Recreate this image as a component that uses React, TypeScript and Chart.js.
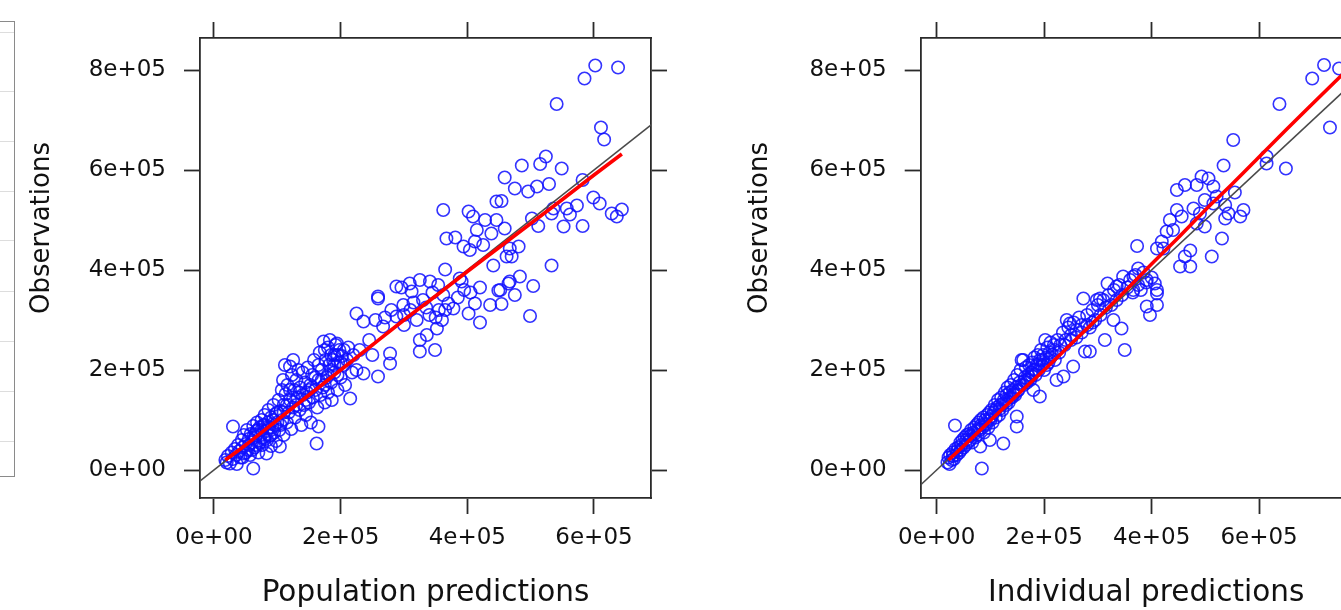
import { useEffect, useRef } from 'react';
import { Chart, registerables } from 'chart.js';

Chart.register(...registerables);

// values are in units of 1e5
const UNIT = 1e5;

const xTickValues = [0, 2e5, 4e5, 6e5];
const xTickLabels = ['0e+00', '2e+05', '4e+05', '6e+05'];
const yTickValues = [0, 2e5, 4e5, 6e5, 8e5];
const yTickLabels = ['0e+00', '2e+05', '4e+05', '6e+05', '8e+05'];

const obsRange = [-56000, 864000];
const popPredRange = [-22100, 690000];
const indPredRange = [-29800, 809700];

const yTitle = 'Observations';
const popTitle = 'Population predictions';
const indTitle = 'Individual predictions';

// grid levels of the partially visible panel at the far left
const leftPanelGridLevels = [445, 386, 336, 286, 236, 186, 136, 86, 36];
const leftPanelRange = [0, 456];

// [population prediction, observation]
const populationPairs: [number, number][] = [
  [0.18, 0.2], [0.2, 0.15], [0.22, 0.28], [0.25, 0.13], [0.28, 0.35], [0.3, 0.22], [0.3, 0.87], [0.33, 0.42],
  [0.35, 0.3], [0.36, 0.12], [0.38, 0.5], [0.4, 0.38], [0.42, 0.25], [0.44, 0.6], [0.45, 0.45], [0.47, 0.7],
  [0.48, 0.33], [0.5, 0.52], [0.52, 0.8], [0.54, 0.4], [0.55, 0.62], [0.57, 0.3], [0.58, 0.72], [0.6, 0.55],
  [0.62, 0.03], [0.62, 0.88], [0.64, 0.45], [0.65, 0.66], [0.67, 0.78], [0.68, 0.95], [0.7, 0.58], [0.7, 0.35],
  [0.72, 0.85], [0.74, 0.7], [0.75, 1.0], [0.76, 0.5], [0.78, 0.9], [0.8, 0.62], [0.8, 1.1], [0.83, 0.33],
  [0.83, 0.78], [0.85, 0.95], [0.86, 1.2], [0.88, 0.68], [0.9, 1.05], [0.9, 0.48], [0.92, 0.85], [0.94, 1.3],
  [0.95, 0.75], [0.97, 1.12], [0.98, 0.58], [1.0, 0.95], [1.02, 1.4], [1.03, 0.8], [1.04, 0.47], [1.05, 1.18],
  [1.07, 1.6], [1.08, 1.0], [1.09, 1.8], [1.1, 0.7], [1.1, 1.3], [1.12, 2.1], [1.13, 1.52], [1.15, 0.95],
  [1.16, 1.7], [1.18, 1.15], [1.2, 2.07], [1.2, 1.4], [1.22, 0.82], [1.23, 1.9], [1.25, 2.2], [1.25, 1.25],
  [1.27, 1.6], [1.28, 1.05], [1.3, 1.8], [1.32, 1.45], [1.33, 2.0], [1.35, 1.2], [1.36, 1.65], [1.38, 0.9],
  [1.4, 1.5], [1.4, 1.95], [1.42, 1.3], [1.44, 1.75], [1.45, 1.1], [1.47, 1.55], [1.48, 2.05], [1.5, 1.35],
  [1.52, 1.7], [1.53, 0.95], [1.55, 1.9], [1.56, 1.45], [1.58, 2.2], [1.6, 1.6], [1.62, 0.53], [1.63, 1.25],
  [1.65, 0.87], [1.65, 1.8], [1.67, 2.35], [1.68, 1.5], [1.7, 2.0], [1.72, 1.65], [1.73, 2.57], [1.75, 1.35],
  [1.76, 2.2], [1.78, 1.85], [1.8, 2.45], [1.8, 1.55], [1.82, 2.1], [1.83, 2.6], [1.85, 1.75], [1.86, 1.4],
  [1.88, 2.2], [1.9, 2.3], [1.9, 1.95], [1.92, 2.5], [1.94, 2.53], [1.95, 1.6], [1.96, 2.15], [1.98, 2.4],
  [2.0, 1.85], [2.02, 2.28], [2.05, 2.1], [2.07, 1.7], [2.1, 2.2], [2.12, 2.45], [2.15, 1.43], [2.18, 1.95],
  [0.45, 0.25], [0.5, 0.35], [0.55, 0.5], [0.6, 0.4], [0.63, 0.7], [0.66, 0.5], [0.69, 0.8], [0.72, 0.55],
  [0.75, 0.8], [0.78, 0.65], [0.8, 0.9], [0.84, 0.6], [0.87, 0.85], [0.9, 0.7], [0.93, 1.0], [0.96, 0.9],
  [1.0, 1.15], [1.05, 0.9], [1.1, 1.15], [1.15, 1.3], [1.2, 1.6], [1.25, 1.45], [1.3, 1.3], [1.35, 1.55],
  [1.45, 1.4], [1.5, 1.6], [1.55, 1.65], [1.6, 1.85], [1.7, 1.8], [1.75, 1.7], [1.8, 1.9], [1.85, 2.3],
  [1.9, 2.1], [1.95, 2.3], [2.0, 2.15], [2.05, 2.4], [1.85, 2.0], [1.75, 2.4], [1.65, 2.1], [1.95, 1.9],
  [2.2, 2.3], [2.25, 2.0], [2.36, 1.93], [2.3, 2.4], [2.45, 2.6], [2.5, 2.3], [2.59, 1.87], [2.78, 2.33],
  [2.78, 2.13], [2.25, 3.13], [2.36, 2.97], [2.55, 3.0], [2.59, 3.43], [2.67, 2.87], [2.7, 3.05], [2.8, 3.2],
  [2.88, 3.07], [2.99, 3.3], [2.88, 3.67], [2.59, 3.47], [2.96, 3.65], [3.0, 2.9], [3.0, 3.1], [3.09, 3.73],
  [3.1, 3.2], [3.12, 3.57], [3.15, 3.35], [3.2, 3.0], [3.25, 2.6], [3.25, 2.37], [3.25, 3.8], [3.3, 3.4],
  [3.35, 3.25], [3.36, 2.7], [3.4, 3.1], [3.41, 3.77], [3.45, 3.55], [3.49, 2.4], [3.5, 3.05], [3.52, 2.83],
  [3.54, 3.7], [3.55, 3.2], [3.6, 3.0], [3.62, 3.5], [3.65, 3.2], [3.7, 3.33], [3.78, 3.23], [3.85, 3.45],
  [3.95, 3.6], [4.05, 3.55], [4.02, 3.13], [4.12, 3.33], [4.2, 2.95], [4.36, 3.3], [4.54, 3.32], [4.75, 3.5],
  [4.52, 3.6], [4.67, 3.77], [4.99, 3.08], [3.65, 4.01], [3.88, 3.83], [3.91, 3.77], [4.2, 3.65], [4.49, 3.59],
  [4.65, 3.73], [4.83, 3.87], [5.04, 3.68], [4.41, 4.09], [5.33, 4.09], [4.62, 4.27], [4.7, 4.27], [3.67, 4.63],
  [3.81, 4.65], [3.94, 4.47], [4.04, 4.4], [4.12, 4.57], [4.25, 4.5], [4.67, 4.43], [4.81, 4.47], [4.15, 4.8],
  [4.38, 4.73], [4.59, 4.83], [4.28, 5.0], [4.46, 5.0], [5.12, 4.88], [5.52, 4.87], [5.82, 4.88], [5.02, 5.03],
  [5.33, 5.13], [5.62, 5.11], [5.36, 5.23], [5.57, 5.23], [5.73, 5.29], [6.28, 5.13], [6.44, 5.21], [6.36, 5.07],
  [3.62, 5.2], [4.02, 5.17], [4.09, 5.07], [4.46, 5.37], [4.54, 5.38], [5.99, 5.45], [6.09, 5.33], [4.96, 5.57],
  [4.75, 5.63], [5.1, 5.67], [5.29, 5.72], [4.59, 5.85], [5.82, 5.8], [4.86, 6.09], [5.49, 6.03], [5.15, 6.12],
  [5.24, 6.27], [6.16, 6.61], [6.11, 6.85], [5.41, 7.32], [5.85, 7.83], [6.02, 8.09], [6.38, 8.05],
];

// [individual prediction, observation]
const individualPairs: [number, number][] = [
  [0.2, 0.15], [0.22, 0.25], [0.24, 0.12], [0.25, 0.3], [0.28, 0.2], [0.3, 0.35], [0.32, 0.22], [0.34, 0.89],
  [0.35, 0.42], [0.37, 0.3], [0.4, 0.45], [0.42, 0.35], [0.44, 0.55], [0.45, 0.4], [0.48, 0.6], [0.5, 0.45],
  [0.52, 0.65], [0.54, 0.5], [0.56, 0.7], [0.58, 0.55], [0.6, 0.72], [0.62, 0.6], [0.64, 0.8], [0.66, 0.55],
  [0.68, 0.75], [0.7, 0.85], [0.72, 0.65], [0.74, 0.9], [0.76, 0.7], [0.78, 0.95], [0.8, 0.8], [0.81, 0.47],
  [0.82, 1.0], [0.84, 0.03], [0.85, 0.85], [0.87, 1.05], [0.88, 0.75], [0.9, 1.0], [0.92, 0.9], [0.94, 1.1],
  [0.96, 0.85], [0.98, 1.15], [0.99, 0.6], [1.0, 1.0], [1.02, 1.2], [1.04, 0.95], [1.06, 1.15], [1.08, 1.3],
  [1.1, 1.05], [1.12, 1.25], [1.14, 1.4], [1.16, 1.1], [1.18, 1.3], [1.2, 1.45], [1.22, 1.2], [1.24, 0.53],
  [1.25, 1.4], [1.27, 1.55], [1.29, 1.3], [1.3, 1.5], [1.32, 1.65], [1.34, 1.35], [1.36, 1.55], [1.38, 1.7],
  [1.4, 1.45], [1.42, 1.6], [1.44, 1.8], [1.46, 1.5], [1.48, 1.65], [1.49, 0.87], [1.49, 1.07], [1.5, 1.9],
  [1.52, 1.6], [1.54, 1.75], [1.56, 2.0], [1.58, 2.2], [1.61, 2.2], [1.62, 1.7], [1.64, 1.85], [1.66, 2.05],
  [1.68, 1.75], [1.7, 1.9], [1.72, 2.1], [1.74, 1.8], [1.76, 1.95], [1.78, 2.15], [1.8, 1.6], [1.8, 2.0],
  [1.82, 2.25], [1.84, 1.9], [1.86, 2.1], [1.88, 2.3], [1.9, 2.0], [1.92, 1.47], [1.92, 2.2], [1.94, 2.4],
  [1.96, 2.1], [1.98, 2.3], [2.0, 2.0], [2.02, 2.6], [2.04, 2.25], [2.06, 2.45], [2.08, 2.15], [2.1, 2.35],
  [0.3, 0.28], [0.38, 0.38], [0.46, 0.5], [0.55, 0.6], [0.62, 0.68], [0.7, 0.72], [0.77, 0.82], [0.83, 0.9],
  [0.9, 0.92], [0.97, 1.02], [1.03, 1.08], [1.1, 1.2], [1.17, 1.22], [1.23, 1.32], [1.3, 1.38], [1.37, 1.45],
  [1.43, 1.52], [1.5, 1.58], [1.57, 1.7], [1.63, 1.78], [1.7, 1.8], [1.77, 1.88], [1.83, 2.0], [1.9, 2.12],
  [1.97, 2.2], [2.05, 2.1], [2.12, 2.25], [2.2, 2.4], [2.28, 2.35], [2.38, 2.5], [2.5, 2.6], [2.6, 2.65],
  [2.7, 2.75], [2.8, 2.9], [2.9, 2.95],
  [2.12, 2.55], [2.15, 2.3], [2.18, 2.5], [2.2, 2.2], [2.23, 1.8], [2.36, 1.87], [2.54, 2.07], [2.76, 2.37],
  [2.85, 2.37], [2.25, 2.6], [2.3, 2.5], [2.35, 2.75], [2.4, 2.6], [2.42, 3.0], [2.45, 2.85], [2.48, 2.93],
  [2.5, 2.7], [2.55, 2.95], [2.6, 2.8], [2.65, 3.05], [2.7, 2.9], [2.73, 3.43], [2.8, 3.1], [2.85, 2.85],
  [2.9, 3.2], [2.95, 3.0], [2.98, 3.4], [3.0, 3.3], [3.04, 3.43], [3.05, 3.1], [3.1, 3.4], [3.13, 2.6],
  [3.15, 3.25], [3.18, 3.73], [3.2, 3.5], [3.25, 3.3], [3.29, 3.0], [3.3, 3.6], [3.35, 3.4], [3.35, 3.67],
  [3.4, 3.7], [3.44, 2.83], [3.45, 3.5], [3.47, 3.87], [3.5, 2.4], [3.55, 3.65], [3.6, 3.8], [3.65, 3.55],
  [3.66, 3.87], [3.66, 3.6], [3.7, 3.9], [3.73, 4.48], [3.75, 3.7], [3.75, 4.03], [3.8, 3.6], [3.85, 3.95],
  [3.9, 3.75], [3.91, 3.8], [3.91, 3.27], [3.97, 3.1], [4.0, 3.85], [4.06, 3.73], [4.1, 3.53], [4.1, 3.3],
  [4.1, 3.6], [4.1, 4.43], [4.19, 4.57], [4.22, 4.43], [4.28, 4.77], [4.34, 5.0], [4.4, 4.8], [4.47, 5.6],
  [4.47, 5.2], [4.53, 4.07], [4.56, 5.07], [4.62, 5.7], [4.62, 4.27], [4.72, 4.07], [4.72, 4.39], [4.78, 5.23],
  [4.84, 5.7], [4.84, 4.93], [4.9, 5.13], [4.93, 5.87], [4.99, 5.4], [4.99, 4.87], [5.06, 5.83], [5.12, 4.27],
  [5.15, 5.67], [5.15, 5.33], [5.21, 5.47], [5.31, 4.63], [5.34, 6.09], [5.37, 5.3], [5.37, 5.03], [5.43, 5.13],
  [5.52, 6.6], [5.55, 5.55], [5.65, 5.07], [5.71, 5.2], [6.14, 6.27], [6.14, 6.13], [6.38, 7.32], [6.5, 6.03],
  [6.99, 7.83], [7.21, 8.1], [7.32, 6.85], [7.49, 8.03],
];

// smooth (loess) fits
const popLoess: [number, number][] = [
  [0.18, 0.2], [0.5, 0.5], [1.0, 1.0], [1.5, 1.5], [2.0, 2.0], [2.5, 2.5], [3.0, 3.0], [3.5, 3.48],
  [4.0, 3.97], [4.5, 4.45], [5.0, 4.93], [5.5, 5.41], [6.0, 5.9], [6.44, 6.32],
];
const indLoess: [number, number][] = [
  [0.22, 0.2], [0.5, 0.48], [1.0, 0.99], [1.5, 1.5], [2.0, 2.0], [2.5, 2.52], [3.0, 3.04], [3.5, 3.57],
  [4.0, 4.12], [4.5, 4.65], [5.0, 5.2], [5.5, 5.72], [6.0, 6.26], [6.5, 6.8], [7.0, 7.33], [7.6, 7.96],
];

const TEXT = '#111111';
const AXIS = '#2a2a2a';
const FONT = 'DejaVu Sans';

const yTitlePlugin = {
  id: 'yTitle',
  afterDraw(chart: any, _args: any, opts: any) {
    const { ctx } = chart;
    ctx.save();
    ctx.translate(opts.x, opts.y);
    ctx.rotate(-Math.PI / 2);
    ctx.font = opts.font;
    ctx.fillStyle = opts.color;
    ctx.textAlign = 'center';
    ctx.textBaseline = 'middle';
    ctx.fillText(opts.text, 0, 0);
    ctx.restore();
  },
};

const framePlugin = {
  id: 'frame',
  afterDraw(chart: any, _args: any, opts: any) {
    const { ctx, chartArea } = chart;
    ctx.save();
    ctx.strokeStyle = opts.color;
    ctx.lineWidth = opts.width;
    ctx.strokeRect(chartArea.left + 0.5, chartArea.top + 0.5, chartArea.right - chartArea.left - 1, chartArea.bottom - chartArea.top - 1);
    ctx.restore();
  },
};

const toPts = (pairs: [number, number][]) => pairs.map(([x, y]) => ({ x: x * UNIT, y: y * UNIT }));

function panelConfig(
  pairs: [number, number][],
  loess: [number, number][],
  xRange: number[],
  xTitle: string,
  leftW: number,
  rightW: number,
  titleX: number
): any {
  const tickGrid = { drawOnChartArea: false, drawTicks: true, tickLength: 16, tickColor: AXIS, tickWidth: 1.8 };
  const border = { display: true, color: AXIS, width: 1.8 };
  const setX = (s: any) => { s.ticks = xTickValues.map((v) => ({ value: v })); };
  const setY = (s: any) => { s.ticks = yTickValues.map((v) => ({ value: v })); };
  return {
    type: 'scatter',
    data: {
      datasets: [
        {
          data: toPts(loess),
          showLine: true,
          borderColor: '#ff0000',
          borderWidth: 3.6,
          pointRadius: 0,
          tension: 0.3,
          clip: 0,
        },
        {
          data: [{ x: -2e5, y: -2e5 }, { x: 10e5, y: 10e5 }],
          showLine: true,
          borderColor: '#4a4a4a',
          borderWidth: 1.5,
          pointRadius: 0,
          clip: 0,
        },
        {
          data: toPts(pairs),
          showLine: false,
          pointStyle: 'circle',
          pointRadius: 6.2,
          pointBorderWidth: 1.6,
          pointBorderColor: 'rgba(15,15,255,0.85)',
          pointBackgroundColor: 'rgba(0,0,0,0)',
        },
      ],
    },
    options: {
      animation: false,
      responsive: false,
      events: [],
      layout: { padding: 0 },
      plugins: {
        legend: { display: false },
        tooltip: { enabled: false },
        yTitle: { text: yTitle, x: titleX, y: 228, font: `26px "${FONT}"`, color: TEXT },
      },
      scales: {
        x: {
          type: 'linear',
          position: 'bottom',
          min: xRange[0],
          max: xRange[1],
          afterBuildTicks: setX,
          afterFit: (s: any) => { s.height = 112; },
          ticks: {
            callback: (_v: any, i: number) => xTickLabels[i],
            font: { family: FONT, size: 23 },
            color: TEXT,
            padding: 10,
            maxRotation: 0,
            autoSkip: false,
          },
          grid: tickGrid,
          border,
          title: {
            display: true,
            text: xTitle,
            font: { family: FONT, size: 29.5, lineHeight: 1 },
            color: TEXT,
            padding: { top: 0, bottom: 1.5 },
          },
        },
        x2: {
          type: 'linear',
          position: 'top',
          min: xRange[0],
          max: xRange[1],
          afterBuildTicks: setX,
          afterFit: (s: any) => { s.height = 38; },
          ticks: { display: false, autoSkip: false },
          grid: tickGrid,
          border,
        },
        y: {
          type: 'linear',
          position: 'left',
          min: obsRange[0],
          max: obsRange[1],
          afterBuildTicks: setY,
          afterFit: (s: any) => { s.width = leftW; },
          ticks: {
            callback: (_v: any, i: number) => yTickLabels[i],
            font: { family: FONT, size: 23 },
            color: TEXT,
            padding: 18,
            autoSkip: false,
          },
          grid: tickGrid,
          border,
        },
        y2: {
          type: 'linear',
          position: 'right',
          min: obsRange[0],
          max: obsRange[1],
          afterBuildTicks: setY,
          afterFit: (s: any) => { s.width = rightW; },
          ticks: { display: false, autoSkip: false },
          grid: tickGrid,
          border,
        },
      },
    },
    plugins: [yTitlePlugin],
  };
}

function leftPanelConfig(): any {
  return {
    type: 'scatter',
    data: { datasets: [] },
    options: {
      animation: false,
      responsive: false,
      events: [],
      layout: { padding: { top: 21, bottom: 133, left: 0, right: 1 } },
      plugins: {
        legend: { display: false },
        tooltip: { enabled: false },
        frame: { color: '#8a8a8a', width: 1 },
      },
      scales: {
        x: { display: false, min: 0, max: 1 },
        y: {
          min: leftPanelRange[0],
          max: leftPanelRange[1],
          afterBuildTicks: (s: any) => { s.ticks = leftPanelGridLevels.map((v) => ({ value: v })); },
          afterFit: (s: any) => { s.width = 0; },
          ticks: { display: false },
          grid: { color: '#dddddd', lineWidth: 1, drawTicks: false },
          border: { display: false },
        },
      },
    },
    plugins: [framePlugin],
  };
}

export default function App() {
  const leftRef = useRef<HTMLCanvasElement>(null);
  const popRef = useRef<HTMLCanvasElement>(null);
  const indRef = useRef<HTMLCanvasElement>(null);

  useEffect(() => {
    const charts: Chart[] = [];
    if (leftRef.current) charts.push(new Chart(leftRef.current, leftPanelConfig()));
    if (popRef.current)
      charts.push(new Chart(popRef.current, panelConfig(populationPairs, popLoess, popPredRange, popTitle, 200, 49, 42.5)));
    if (indRef.current)
      charts.push(new Chart(indRef.current, panelConfig(individualPairs, indLoess, indPredRange, indTitle, 200.7, 48.3, 40.5)));
    return () => charts.forEach((c) => c.destroy());
  }, []);

  return (
    <div
      style={{
        position: 'absolute',
        left: 0,
        top: 0,
        width: 1341,
        height: 610,
        overflow: 'hidden',
        background: '#ffffff',
      }}
    >
      <canvas ref={leftRef} width={116} height={610} style={{ position: 'absolute', left: -100, top: 0 }} />
      <canvas ref={popRef} width={700} height={610} style={{ position: 'absolute', left: 0, top: 0 }} />
      <canvas ref={indRef} width={700} height={610} style={{ position: 'absolute', left: 720, top: 0 }} />
    </div>
  );
}
